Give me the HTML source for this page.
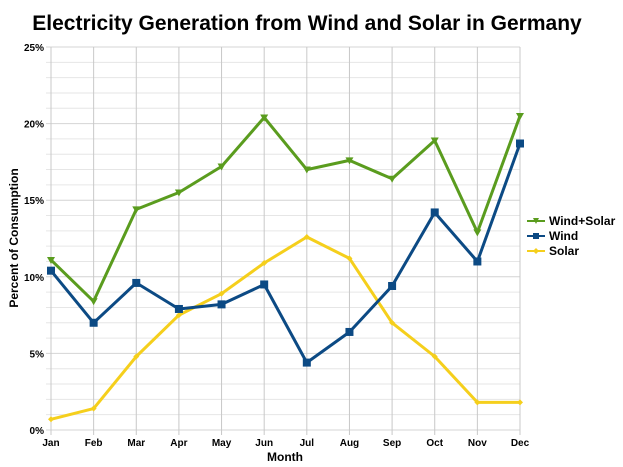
<!DOCTYPE html>
<html><head><meta charset="utf-8"><style>
html,body{margin:0;padding:0;background:#fff;}
svg{display:block;font-family:"Liberation Sans",Arial,sans-serif;}
</style></head><body>
<svg id="c" width="623" height="467" xmlns="http://www.w3.org/2000/svg">
<text x="307" y="30" text-anchor="middle" font-size="21" font-weight="bold" fill="#000">Electricity Generation from Wind and Solar in Germany</text>
<g id="grid"></g>
<g id="data"></g>
<text x="18" y="238" transform="rotate(-90 18 238)" text-anchor="middle" font-size="12" font-weight="bold">Percent of Consumption</text>
<text x="285" y="461" text-anchor="middle" font-size="12" font-weight="bold">Month</text>
<g font-size="12" font-weight="bold">
<line x1="527" y1="221" x2="545" y2="221" stroke="#5a9c1e" stroke-width="2"/><path d="M533,218 L539,218 L536,224Z" fill="#5a9c1e"/>
<text x="549" y="225">Wind+Solar</text>
<line x1="527" y1="236" x2="545" y2="236" stroke="#0c4a84" stroke-width="2"/><rect x="533" y="233" width="6" height="6" fill="#0c4a84"/>
<text x="549" y="240">Wind</text>
<line x1="527" y1="251" x2="545" y2="251" stroke="#f5cf1c" stroke-width="2"/><path d="M536,248 L539,251 L536,254 L533,251Z" fill="#f5cf1c"/>
<text x="549" y="255">Solar</text>
</g>
</svg>
<script>
var ns="http://www.w3.org/2000/svg";
function el(p,t,a,txt){var e=document.createElementNS(ns,t);for(var k in a)e.setAttribute(k,a[k]);if(txt)e.textContent=txt;p.appendChild(e);return e;}
var g=document.getElementById('grid'),d=document.getElementById('data');
var X0=51,DX=(520-51)/11,Y0=430,SY=15.32;
function X(i){return X0+i*DX;}function Y(v){return Y0-v*SY;}
for(var v=0;v<=25;v++){el(g,'line',{x1:46,x2:520,y1:Y(v),y2:Y(v),stroke:v%5==0?'#d4d4d4':'#e6e6e6','stroke-width':1});
 if(v%5==0)el(g,'text',{x:44,y:Y(v)+4,'text-anchor':'end','font-size':10,'font-weight':'bold'},v+'%');}
var m=['Jan','Feb','Mar','Apr','May','Jun','Jul','Aug','Sep','Oct','Nov','Dec'];
for(var i=0;i<12;i++){el(g,'line',{x1:X(i),x2:X(i),y1:Y(25),y2:Y0+5,stroke:'#c8c8c8','stroke-width':1});
 el(g,'text',{x:X(i),y:446,'text-anchor':'middle','font-size':10,'font-weight':'bold'},m[i]);}
var ws=[11.1,8.4,14.4,15.5,17.2,20.4,17.0,17.6,16.4,18.9,12.9,20.5];
var w=[10.4,7.0,9.6,7.9,8.2,9.5,4.4,6.4,9.4,14.2,11.0,18.7];
var s=[0.7,1.4,4.8,7.5,8.9,10.9,12.6,11.2,7.0,4.8,1.8,1.8];
function line(a,c,mk){var p=a.map(function(v,i){return X(i).toFixed(1)+','+Y(v).toFixed(1)}).join(' ');
 el(d,'polyline',{points:p,fill:'none',stroke:c,'stroke-width':3,'stroke-linejoin':'round'});
 a.forEach(function(v,i){var x=X(i),y=Y(v);
  if(mk=='t')el(d,'path',{d:'M'+(x-4)+','+(y-3)+' L'+(x+4)+','+(y-3)+' L'+x+','+(y+4)+'Z',fill:c});
  else if(mk=='s')el(d,'rect',{x:x-4,y:y-4,width:8,height:8,fill:c});
  else el(d,'path',{d:'M'+x+','+(y-3)+' L'+(x+3)+','+y+' L'+x+','+(y+3)+' L'+(x-3)+','+y+'Z',fill:c});});}
line(s,'#f5cf1c','d');line(w,'#0c4a84','s');line(ws,'#5a9c1e','t');
</script>
</body></html>
